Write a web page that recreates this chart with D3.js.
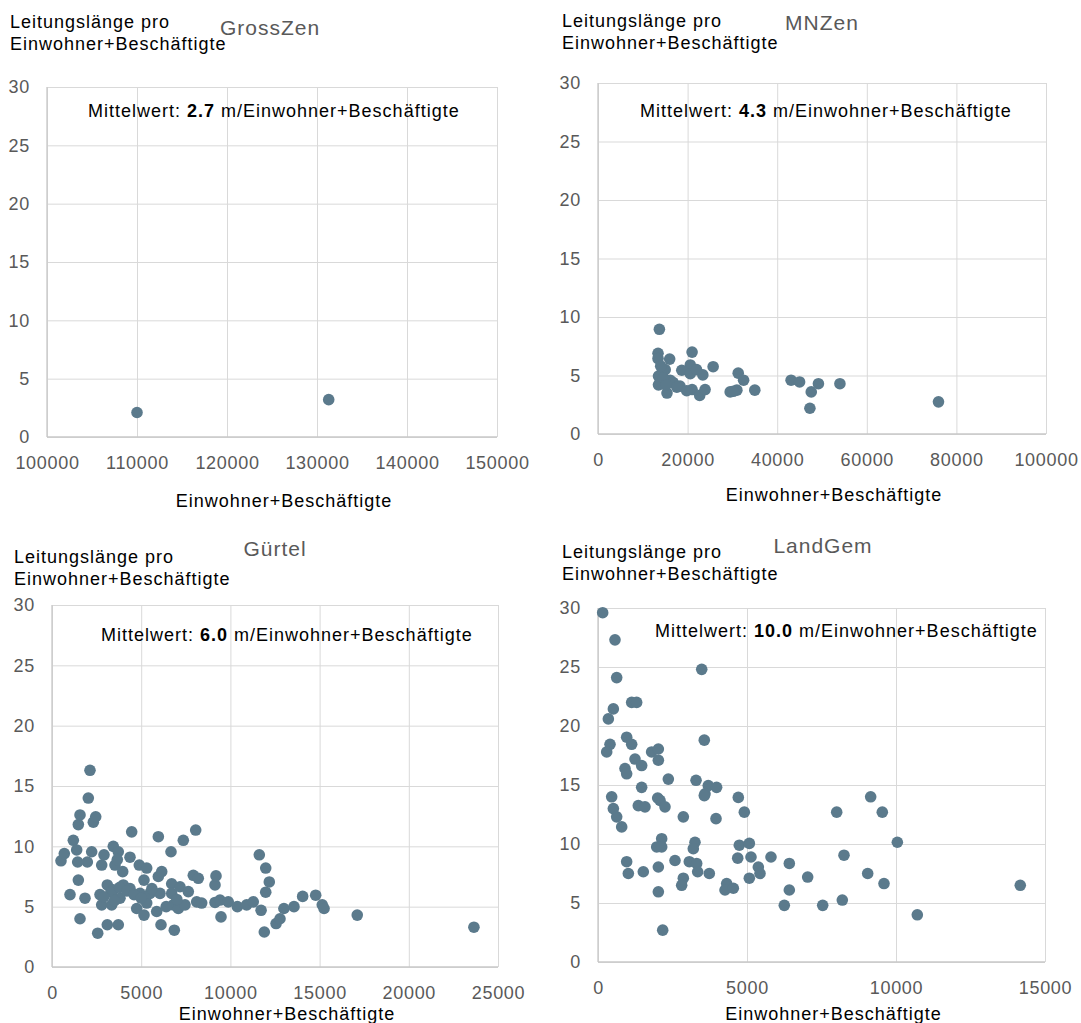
<!DOCTYPE html>
<html>
<head>
<meta charset="utf-8">
<script src="https://cdn.jsdelivr.net/npm/d3@7"></script>
<style>
body { margin: 0; background: #fff; }
text { font-family: "Liberation Sans", Arial, sans-serif; }
</style>
</head>
<body>
<div id="chart-container"></div>
<script>
// four scatter panels, one per Gemeindetyp
const svgWidth = 1081;
const svgHeight = 1023;

// panel names and mean values
const titles = ["GrossZen", "MNZen", "Gürtel", "LandGem"];
const means = ["2.7", "4.3", "6.0", "10.0"];

// tick labels
const yTicks = [0, 5, 10, 15, 20, 25, 30];
const grossZenTicks = [100000, 110000, 120000, 130000, 140000, 150000];
const mnZenTicks = [0, 20000, 40000, 60000, 80000, 100000];
const guertelTicks = [0, 5000, 10000, 15000, 20000, 25000];
const landGemTicks = [0, 5000, 10000, 15000];

// data (Einwohner+Beschäftigte, Leitungslänge pro E+B)
const grossZenX = [110000, 131300];
const grossZenY = [2.1, 3.2];

const mnZenX = [13700, 13400, 13400, 16000, 21000, 20600, 18700, 20600, 25700, 23400,
    15000, 13500, 16100, 14300, 13500, 15400, 18300, 21000, 22700, 23900,
    29500, 31000, 31300, 32500, 35000, 43100, 45000, 49200, 47600, 54000,
    47300, 76000, 14600, 16800, 17600, 15200, 14000, 22000, 30200, 19800];
const mnZenY = [8.95, 6.9, 6.45, 6.4, 7.0, 5.9, 5.45, 5.15, 5.75, 5.05,
    5.5, 4.95, 4.6, 4.3, 4.2, 3.5, 4.1, 3.8, 3.3, 3.8,
    3.6, 3.75, 5.2, 4.6, 3.75, 4.6, 4.45, 4.3, 3.6, 4.3,
    2.2, 2.75, 4.8, 4.4, 4.0, 4.2, 5.8, 5.5, 3.65, 3.7];

const guertelX = [504, 690, 1009, 1195, 1383, 1476, 1570, 1440, 1476, 1570,
    1850, 1980, 2035, 2130, 2225, 2316, 2450, 2562, 2690, 2786,
    2786, 2915, 3100, 3100, 3346, 3436, 3531, 3436, 3716, 3660,
    3716, 3811, 3963, 3997, 4372, 4372, 4467, 4748, 4893, 4933,
    5157, 5157, 5308, 5308, 5493, 5868, 5960, 5960, 6054, 6149,
    6110, 6670, 6709, 6709, 6800, 6856, 7080, 7175, 7360, 7455,
    7640, 7920, 8055, 8200, 8110, 8390, 9137, 9193, 9137, 9417,
    9473, 9880, 10390, 10910, 11280, 11620, 11720, 11900, 11980, 12180,
    11980, 12560, 12780, 13000, 13565, 14050, 14780, 15150, 15250, 17110,
    23650, 3300, 3800, 4200, 4600, 5000, 5600, 2900, 3500, 6400, 7000];
const guertelY = [8.8, 9.4, 6.0, 10.5, 9.7, 11.8, 12.6, 8.7, 7.2, 4.0,
    5.7, 8.7, 14.0, 16.3, 9.55, 12.0, 12.45, 2.8, 6.0, 5.15,
    8.45, 9.3, 6.8, 3.5, 5.15, 10.0, 8.45, 6.4, 9.55, 8.9,
    3.5, 5.7, 7.9, 6.8, 6.5, 9.1, 11.2, 4.85, 8.45, 6.1,
    7.2, 4.3, 8.2, 5.3, 6.1, 4.6, 10.8, 7.5, 6.1, 7.9,
    3.5, 9.55, 6.9, 6.1, 5.15, 3.05, 4.85, 6.65, 10.5, 5.15,
    6.25, 7.6, 11.35, 7.35, 5.4, 5.3, 6.8, 7.55, 5.35, 5.55,
    4.15, 5.4, 5.0, 5.15, 5.4, 9.3, 4.7, 2.9, 8.2, 7.05,
    6.2, 3.6, 4.0, 4.85, 5.0, 5.85, 5.95, 5.15, 4.85, 4.3,
    3.3, 6.2, 6.6, 6.3, 6.0, 5.7, 6.5, 5.8, 5.5, 5.0, 5.6];

const landGemX = [157, 570, 3480, 627, 515, 347, 1130, 1297, 962, 1130,
    403, 292, 3567, 1800, 2025, 2025, 1242, 1465, 906, 962,
    2360, 3290, 3700, 3980, 3590, 1465, 459, 2003, 4708, 515,
    627, 795, 1353, 1577, 2080, 2248, 2863, 3567, 3960, 4910,
    8010, 2137, 1970, 2137, 3255, 3198, 4742, 5078, 962, 1018,
    1520, 2025, 2025, 2584, 3064, 3311, 3345, 3735, 2863, 2808,
    4318, 4262, 4541, 4688, 5134, 5380, 5436, 5078, 5805, 6420,
    6420, 7036, 6252, 7540, 2171, 9150, 9540, 10045, 8255, 9050,
    9597, 8198, 10715, 14170];
const landGemY = [29.6, 27.3, 24.8, 24.1, 21.45, 20.6, 22.0, 22.0, 19.05, 18.45,
    18.45, 17.8, 18.8, 17.8, 18.05, 17.1, 17.2, 16.65, 16.4, 15.95,
    15.5, 15.4, 14.95, 14.8, 14.25, 14.8, 14.0, 13.9, 13.95, 13.0,
    12.3, 11.45, 13.25, 13.15, 13.7, 13.15, 12.3, 14.1, 12.15, 12.7,
    12.7, 10.45, 9.75, 9.75, 10.15, 9.6, 9.9, 10.05, 8.5, 7.5,
    7.65, 8.05, 5.95, 8.6, 8.5, 8.35, 7.65, 7.5, 7.1, 6.5,
    6.65, 6.1, 6.25, 8.8, 8.9, 8.05, 7.5, 7.1, 8.9, 8.35,
    6.1, 7.2, 4.8, 4.8, 2.7, 14.0, 12.7, 10.15, 9.05, 7.5,
    6.65, 5.25, 4.0, 6.5];

const yTitle = ["Leitungslänge pro", "Einwohner+Beschäftigte"];
const xTitle = "Einwohner+Beschäftigte";

// layout of each panel (pixels)
const panels = [
    { xs: grossZenX, ys: grossZenY, ticks: grossZenTicks, left: 47, right: 497, top: 87, bottom: 437,
      yTitleX: 10, yTitleY: 28, titleX: 270, titleY: 35, noteX: 88, noteY: 117, xTitleY: 507 },
    { xs: mnZenX, ys: mnZenY, ticks: mnZenTicks, left: 598, right: 1046, top: 83, bottom: 434,
      yTitleX: 562, yTitleY: 27, titleX: 822, titleY: 30, noteX: 640, noteY: 117, xTitleY: 501 },
    { xs: guertelX, ys: guertelY, ticks: guertelTicks, left: 52, right: 498, top: 605, bottom: 967,
      yTitleX: 14, yTitleY: 563, titleX: 275, titleY: 556, noteX: 101, noteY: 641, xTitleY: 1020 },
    { xs: landGemX, ys: landGemY, ticks: landGemTicks, left: 598, right: 1045, top: 608, bottom: 962,
      yTitleX: 562, yTitleY: 558, titleX: 823, titleY: 553, noteX: 655, noteY: 637, xTitleY: 1020 }
];

const dotColor = "#5b7a8c";
const gridColor = "#d9d9d9";
const tickColor = "#595959";

const svg = d3.select("#chart-container")
    .append("svg")
    .attr("width", svgWidth)
    .attr("height", svgHeight);

panels.forEach(function (p, i) {
    const x = d3.scaleLinear()
        .domain([p.ticks[0], p.ticks[p.ticks.length - 1]])
        .range([p.left, p.right]);
    const y = d3.scaleLinear()
        .domain([0, 30])
        .range([p.bottom, p.top]);

    const g = svg.append("g");

    // gridlines
    g.append("g")
        .attr("transform", `translate(0,${p.bottom})`)
        .call(d3.axisBottom(x).tickValues(p.ticks).tickSize(-(p.bottom - p.top)).tickFormat(""))
        .call(a => a.select(".domain").remove())
        .selectAll("line").attr("stroke", gridColor);
    g.append("g")
        .attr("transform", `translate(${p.left},0)`)
        .call(d3.axisLeft(y).tickValues(yTicks).tickSize(-(p.right - p.left)).tickFormat(""))
        .call(a => a.select(".domain").remove())
        .selectAll("line").attr("stroke", gridColor);

    // axis lines
    g.append("line")
        .attr("x1", p.left).attr("x2", p.right)
        .attr("y1", p.bottom).attr("y2", p.bottom)
        .attr("stroke", "#c8c8c8").attr("stroke-width", 1.3);
    g.append("line")
        .attr("x1", p.left).attr("x2", p.left)
        .attr("y1", p.top).attr("y2", p.bottom)
        .attr("stroke", "#c8c8c8").attr("stroke-width", 1.3);

    // tick labels
    const xa = g.append("g")
        .attr("transform", `translate(0,${p.bottom})`)
        .call(d3.axisBottom(x).tickValues(p.ticks).tickSize(0).tickPadding(19).tickFormat(d3.format("d")));
    xa.select(".domain").remove();
    xa.selectAll("text")
        .attr("fill", tickColor)
        .style("font-size", "18px")
        .style("letter-spacing", "0.7px")
        .style("font-family", '"Liberation Sans", Arial, sans-serif');

    const ya = g.append("g")
        .attr("transform", `translate(${p.left},0)`)
        .call(d3.axisLeft(y).tickValues(yTicks).tickSize(0).tickPadding(17));
    ya.select(".domain").remove();
    ya.selectAll("text")
        .attr("fill", tickColor)
        .style("font-size", "18px")
        .style("letter-spacing", "0.7px")
        .style("font-family", '"Liberation Sans", Arial, sans-serif');

    // points
    g.append("g")
        .selectAll("circle")
        .data(p.xs.map((v, k) => [v, p.ys[k]]))
        .join("circle")
        .attr("cx", d => x(d[0]))
        .attr("cy", d => y(d[1]))
        .attr("r", 5.8)
        .attr("fill", dotColor);

    // y axis title (two lines, above the axis)
    g.append("text")
        .attr("x", p.yTitleX)
        .attr("y", p.yTitleY)
        .style("font-size", "18px")
        .style("letter-spacing", "1px")
        .attr("fill", "#000")
        .selectAll("tspan")
        .data(yTitle)
        .join("tspan")
        .attr("x", p.yTitleX)
        .attr("dy", (d, k) => k === 0 ? 0 : 22)
        .text(d => d);

    // panel title
    g.append("text")
        .text(titles[i])
        .attr("x", p.titleX)
        .attr("y", p.titleY)
        .attr("text-anchor", "middle")
        .attr("fill", tickColor)
        .style("font-size", "21px")
        .style("letter-spacing", "1px");

    // mean annotation
    const note = g.append("text")
        .attr("x", p.noteX)
        .attr("y", p.noteY)
        .attr("fill", "#000")
        .style("font-size", "18px")
        .style("letter-spacing", "1px");
    note.append("tspan").text("Mittelwert: ");
    note.append("tspan").attr("font-weight", "bold").text(means[i]);
    note.append("tspan").text(" m/Einwohner+Beschäftigte");

    // x axis title
    g.append("text")
        .text(xTitle)
        .attr("x", (p.left + p.right) / 2 + 12)
        .attr("y", p.xTitleY)
        .attr("text-anchor", "middle")
        .attr("fill", "#000")
        .style("font-size", "18px")
        .style("letter-spacing", "1px");
});
</script>
</body>
</html>
